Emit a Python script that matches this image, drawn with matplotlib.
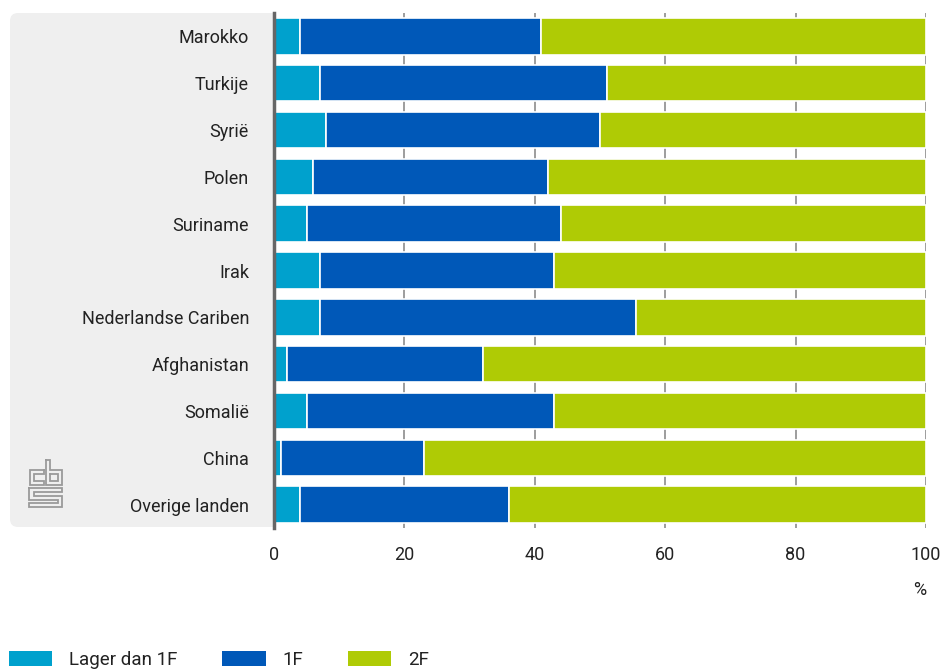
import matplotlib.pyplot as plt
import numpy as np
from matplotlib.patches import FancyBboxPatch, Patch
from matplotlib.lines import Line2D

plt.rcParams['font.family'] = ['Roboto', 'DejaVu Sans']

landen = ["Marokko", "Turkije", "Syrië", "Polen", "Suriname", "Irak",
          "Nederlandse Cariben", "Afghanistan", "Somalië", "China", "Overige landen"]
lager_dan_1f = [4, 7, 8, 6, 5, 7, 7, 2, 5, 1, 4]
niveau_1f = [37, 44, 42, 36, 39, 36, 48.5, 30, 38, 22, 32]
niveau_2f = [59, 49, 50, 58, 56, 57, 44.5, 68, 57, 77, 64]

series = ["Lager dan 1F", "1F", "2F"]
kleuren = ["#00a1cd", "#0058b8", "#afcb05"]

W, H = 945, 671
fig = plt.figure(figsize=(W / 100, H / 100), dpi=100)


def fx(x):
    return x / W


def fy(y):
    return 1 - y / H


# grijs vlak achter de labels
panel = FancyBboxPatch((10 / 100, (H - 527) / 100), 2.72, 5.14,
                       boxstyle="round,pad=0,rounding_size=0.08",
                       transform=fig.dpi_scale_trans, facecolor="#efefef",
                       edgecolor="none", zorder=-1)
fig.patches.append(panel)

ax = fig.add_axes([fx(274), fy(528), fx(926) - fx(274), fy(13) - fy(528)])
ax.set_facecolor("white")

y = np.arange(len(landen))
links = np.zeros(len(landen))
for waarden, kleur, naam in zip([lager_dan_1f, niveau_1f, niveau_2f], kleuren, series):
    ax.barh(y, waarden, left=links, height=0.78, color=kleur, edgecolor="white",
            linewidth=1.2, label=naam, zorder=3)
    links = links + np.array(waarden)

ax.set_xlim(0, 100)
ax.set_ylim(len(landen) - 0.5, -0.5)
ax.set_yticks(y)
ax.set_yticklabels(landen, fontsize=13, color="#222222")
ax.set_xticks([0, 20, 40, 60, 80, 100])
ax.tick_params(axis="y", length=0, pad=18)
ax.tick_params(axis="x", length=0, pad=13, labelsize=13, labelcolor="#222222")
for x in [20, 40, 60, 80, 100]:
    ax.axvline(x, color="#8c8c8c", linewidth=1.2, zorder=1)
for s in ["top", "right", "bottom"]:
    ax.spines[s].set_visible(False)
ax.spines["left"].set_color("#666666")
ax.spines["left"].set_linewidth(2.5)
ax.spines["left"].set_zorder(4)

fig.text(fx(926), fy(590), "%", ha="right", va="center", fontsize=13, color="#222222")

# cbs logo
logo = [
    [(44, 470), (30, 470), (30, 485), (44, 485), (44, 481), (34, 481), (34, 474), (44, 474), (44, 470)],
    [(46, 460), (50, 460), (50, 470), (62, 470), (62, 485), (46, 485), (46, 460)],
    [(50, 474), (58, 474), (58, 481), (50, 481), (50, 474)],
    [(29, 488), (62, 488), (62, 492), (34, 492), (34, 496), (62, 496), (62, 507),
     (29, 507), (29, 503), (58, 503), (58, 500), (29, 500), (29, 488)],
]
for pad in logo:
    xs = [fx(p[0]) for p in pad]
    ys = [fy(p[1]) for p in pad]
    fig.lines.append(Line2D(xs, ys, transform=fig.transFigure, color="#9a9a9a",
                            linewidth=1.3, solid_joinstyle="miter"))

handles = [Patch(facecolor=k, edgecolor="none") for k in kleuren]
fig.legend(handles, series, loc="center left", bbox_to_anchor=(fx(9), fy(660)),
           ncol=3, frameon=False, fontsize=13.5, handlelength=2.3, handleheight=0.9,
           handletextpad=0.9, columnspacing=2.4, borderpad=0, borderaxespad=0,
           labelcolor="#222222")

fig.savefig("out.png", dpi=100)
